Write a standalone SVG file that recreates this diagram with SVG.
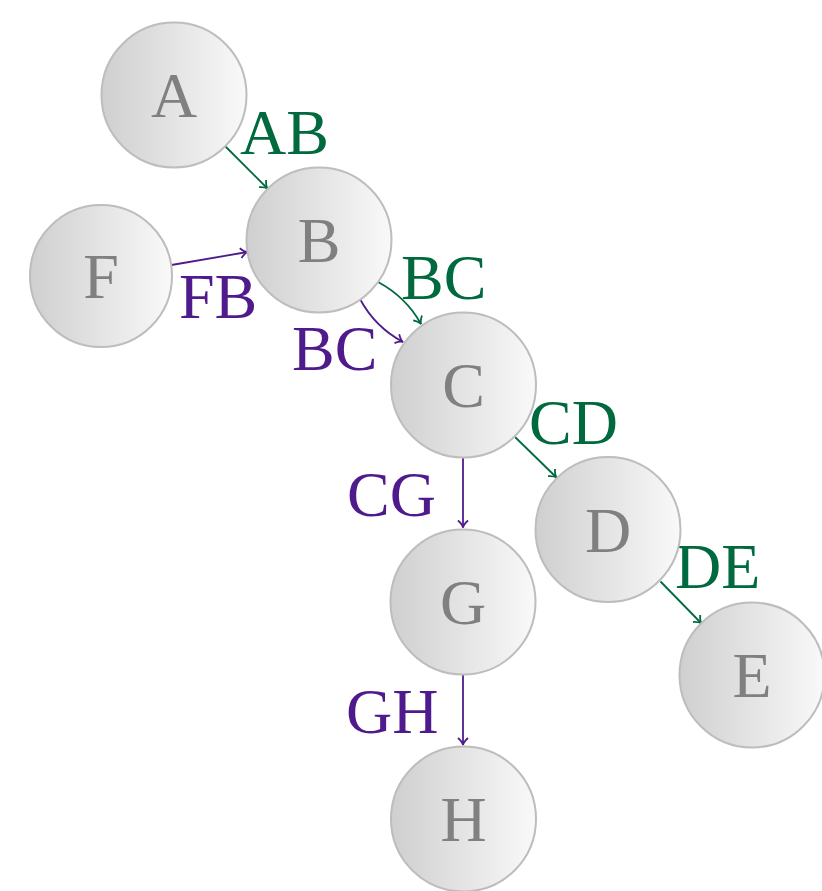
<svg xmlns="http://www.w3.org/2000/svg" width="822" height="891" viewBox="0 0 822 891">
<style>
.node circle{fill:url(#g);stroke:#bdbdbd;stroke-width:2}
.node text{font-family:"Liberation Serif","DejaVu Serif",serif;font-size:64px;fill:#808080;text-anchor:middle}
.lbl{font-family:"Liberation Serif","DejaVu Serif",serif;font-size:64px}
.gr{fill:#00693e}
.pu{fill:#4f1b8c}
.eg{stroke:#00693e;stroke-width:1.8;fill:none}
.ep{stroke:#4f1b8c;stroke-width:1.8;fill:none}
</style>
<defs>
<linearGradient id="g" x1="0" y1="0" x2="1" y2="0">
<stop offset="0" stop-color="#cfcfcf"/>
<stop offset="1" stop-color="#f9f9f9"/>
</linearGradient>
<marker id="ag" markerUnits="userSpaceOnUse" markerWidth="16" markerHeight="16" viewBox="-10 -8 12 16" refX="0" refY="0" orient="auto">
<path d="M-7,-5 Q-3,-0.6 0,0 Q-3,0.6 -7,5" fill="none" stroke="#00693e" stroke-width="1.8"/>
</marker>
<marker id="ap" markerUnits="userSpaceOnUse" markerWidth="16" markerHeight="16" viewBox="-10 -8 12 16" refX="0" refY="0" orient="auto">
<path d="M-7,-5 Q-3,-0.6 0,0 Q-3,0.6 -7,5" fill="none" stroke="#4f1b8c" stroke-width="1.8"/>
</marker>
</defs>
<g id="connectors">
<path class="eg" d="M225.5,146.5 L267.5,188.5" marker-end="url(#ag)"/>
<path class="ep" d="M171.5,265 L247.5,252" marker-end="url(#ap)"/>
<path class="eg" d="M378,282 Q406,297 421,324" marker-end="url(#ag)"/>
<path class="ep" d="M360,299 Q375,327 403,342" marker-end="url(#ap)"/>
<path class="eg" d="M515,437 L556.5,477.5" marker-end="url(#ag)"/>
<path class="ep" d="M463,458 L463,527.5" marker-end="url(#ap)"/>
<path class="eg" d="M660.5,581.5 L701.5,623.5" marker-end="url(#ag)"/>
<path class="ep" d="M463,675 L463,745" marker-end="url(#ap)"/>
<text class="lbl gr" x="240" y="154">AB</text>
<text class="lbl pu" x="179" y="318">FB</text>
<text class="lbl gr" x="401" y="299">BC</text>
<text class="lbl pu" x="292" y="370">BC</text>
<text class="lbl gr" x="529" y="444">CD</text>
<text class="lbl pu" x="347" y="516">CG</text>
<text class="lbl gr" x="675" y="588">DE</text>
<text class="lbl pu" x="346" y="733">GH</text>
</g>
<g id="A" class="node"><circle cx="174" cy="95" r="72.5"/><text x="174" y="117">A</text></g>
<g id="B" class="node"><circle cx="319" cy="240" r="72.5"/><text x="319" y="262">B</text></g>
<g id="F" class="node"><circle cx="101" cy="276" r="71"/><text x="101" y="298">F</text></g>
<g id="C" class="node"><circle cx="463.5" cy="385" r="72.5"/><text x="463.5" y="407">C</text></g>
<g id="D" class="node"><circle cx="608" cy="529.5" r="72.5"/><text x="608" y="551.5">D</text></g>
<g id="E" class="node"><circle cx="752" cy="675" r="72.5"/><text x="752" y="697">E</text></g>
<g id="G" class="node"><circle cx="463" cy="602" r="72.5"/><text x="463" y="624">G</text></g>
<g id="H" class="node"><circle cx="463.5" cy="819" r="72.5"/><text x="463.5" y="841">H</text></g>
</svg>
